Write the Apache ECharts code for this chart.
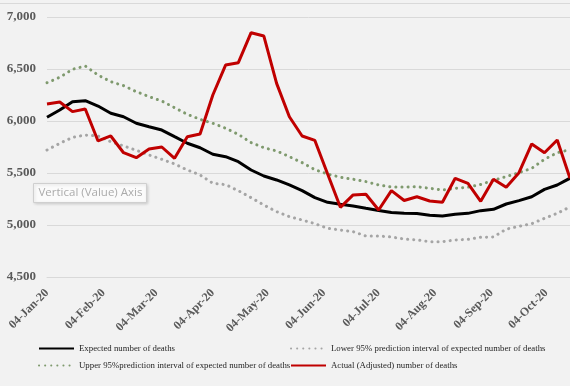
<!DOCTYPE html>
<html>
<head>
<meta charset="utf-8">
<script src="https://cdn.jsdelivr.net/npm/echarts@6/dist/echarts.min.js"></script>
<style>
html,body{margin:0;padding:0;background:#f2f2f2;}
#chart{width:570px;height:386px;}
</style>
</head>
<body>
<div id="chart"></div>
<script>
const weekDates = ['2020-01-04','2020-01-11','2020-01-18','2020-01-25','2020-02-01','2020-02-08','2020-02-15','2020-02-22','2020-02-29','2020-03-07','2020-03-14','2020-03-21','2020-03-28','2020-04-04','2020-04-11','2020-04-18','2020-04-25','2020-05-02','2020-05-09','2020-05-16','2020-05-23','2020-05-30','2020-06-06','2020-06-13','2020-06-20','2020-06-27','2020-07-04','2020-07-11','2020-07-18','2020-07-25','2020-08-01','2020-08-08','2020-08-15','2020-08-22','2020-08-29','2020-09-05','2020-09-12','2020-09-19','2020-09-26','2020-10-03','2020-10-10','2020-10-17'];
const expected = [6036,6106,6186,6195,6144,6074,6041,5978,5945,5913,5849,5786,5743,5680,5657,5609,5529,5471,5433,5385,5330,5263,5218,5199,5183,5161,5140,5120,5112,5110,5093,5086,5103,5112,5138,5151,5202,5234,5272,5343,5385,5450];
const lower95 = [5721,5785,5843,5865,5856,5801,5760,5718,5673,5632,5587,5529,5481,5401,5388,5330,5263,5192,5128,5080,5048,5013,4968,4952,4936,4894,4894,4885,4865,4856,4840,4840,4856,4862,4882,4885,4960,4987,5013,5064,5112,5175];
const upper95 = [6368,6420,6497,6529,6442,6378,6340,6282,6234,6192,6128,6064,6016,5978,5930,5872,5792,5743,5712,5657,5600,5532,5490,5459,5440,5417,5385,5365,5365,5368,5353,5337,5353,5363,5390,5430,5465,5503,5545,5632,5695,5725];
const actual = [6163,6183,6090,6115,5808,5856,5695,5647,5731,5750,5641,5849,5875,6250,6538,6561,6849,6817,6362,6041,5856,5813,5490,5170,5289,5295,5144,5330,5235,5272,5231,5218,5449,5401,5228,5440,5363,5503,5779,5695,5817,5450];
const tickDates = ['2020-01-04','2020-02-04','2020-03-04','2020-04-04','2020-05-04','2020-06-04','2020-07-04','2020-08-04','2020-09-04','2020-10-04'];
const tickLabels = ['04-Jan-20','04-Feb-20','04-Mar-20','04-Apr-20','04-May-20','04-Jun-20','04-Jul-20','04-Aug-20','04-Sep-20','04-Oct-20'];
const yTicks = [4500,5000,5500,6000,6500,7000];
const seriesNames = ['Expected number of deaths','Lower 95% prediction interval of expected number of deaths','Upper 95%prediction interval of expected number of deaths','Actual (Adjusted) number of deaths'];

const DAY = 86400000;
const ts = s => { const p = s.split('-'); return Date.UTC(+p[0], +p[1]-1, +p[2]) / DAY; };
const tickTs = tickDates.map(ts);
const pair = arr => weekDates.map((d,i)=>[ts(d), arr[i]]);

const chart = echarts.init(document.getElementById('chart'), null, {renderer:'canvas'});
const serif = "'Liberation Serif','Times New Roman',serif";
const legendBase = {
  itemWidth: 35, itemHeight: 10, selectedMode: false, padding: 0,
  itemStyle: {opacity: 0},
  textStyle: {fontFamily: serif, fontSize: 8.8, fontWeight: 'normal', color: '#262626'}
};
chart.setOption({
  backgroundColor: '#f2f2f2',
  animation: false,
  grid: {left: 47, right: -4, top: 17, bottom: 109, containLabel: false},
  xAxis: {
    type: 'value',
    min: ts(weekDates[0]),
    max: ts(weekDates[weekDates.length-1]),
    axisLine: {show: true, lineStyle: {color: '#d9d9d9'}},
    axisTick: {show: false},
    splitLine: {show: false},
    axisLabel: {
      customValues: tickTs,
      showMinLabel: true, showMaxLabel: true,
      rotate: 45,
      margin: 14,
      fontFamily: serif, fontSize: 12, fontWeight: 'bold', color: '#595959',
      formatter: v => { const i = tickTs.indexOf(v); return i >= 0 ? tickLabels[i] : ''; }
    }
  },
  yAxis: {
    type: 'value',
    min: yTicks[0], max: yTicks[yTicks.length-1], interval: 500,
    axisLine: {show: false}, axisTick: {show: false},
    splitLine: {lineStyle: {color: '#d9d9d9', width: 1}},
    axisLabel: {
      margin: 11,
      fontFamily: serif, fontSize: 13, fontWeight: 'bold', color: '#595959',
      formatter: v => v.toLocaleString('en-US')
    }
  },
  legend: [
    Object.assign({left: 38, top: 344, data: [seriesNames[0]]}, legendBase),
    Object.assign({left: 290, top: 344, data: [seriesNames[1]]}, legendBase),
    Object.assign({left: 38, top: 361, data: [seriesNames[2]]}, legendBase),
    Object.assign({left: 290, top: 361, data: [seriesNames[3]]}, legendBase)
  ],
  series: [
    {name: seriesNames[1], type: 'line', data: pair(lower95), symbol: 'none',
     lineStyle: {color: '#a5a5a5', width: 3, type: [0.1, 6], cap: 'round'}, itemStyle: {color: '#a5a5a5'}},
    {name: seriesNames[2], type: 'line', data: pair(upper95), symbol: 'none',
     lineStyle: {color: '#7f9a6e', width: 3, type: [0.1, 6], cap: 'round'}, itemStyle: {color: '#7f9a6e'}},
    {name: seriesNames[0], type: 'line', data: pair(expected), symbol: 'none',
     lineStyle: {color: '#000000', width: 3}, itemStyle: {color: '#000000'}},
    {name: seriesNames[3], type: 'line', data: pair(actual), symbol: 'none',
     lineStyle: {color: '#c00000', width: 3}, itemStyle: {color: '#c00000'}}
  ],
  graphic: [
    {type: 'line', shape: {x1: 0, y1: 3.5, x2: 570, y2: 3.5}, style: {stroke: '#d9d9d9', lineWidth: 1}, z: 0},
    {type: 'group', left: 33, top: 183, z: 100, children: [
      {type: 'rect', shape: {x: 0, y: 0, width: 113, height: 19},
       style: {fill: '#fbfbfb', stroke: '#cfcfcf', lineWidth: 1, shadowBlur: 3, shadowColor: 'rgba(0,0,0,0.15)', shadowOffsetX: 1, shadowOffsetY: 1}},
      {type: 'text', x: 5, y: 9.5, style: {text: 'Vertical (Value) Axis', fill: '#ababab', font: "11.5px 'Open Sans', 'Noto Sans', sans-serif", verticalAlign: 'middle'}}
    ]}
  ]
});
</script>
</body>
</html>
